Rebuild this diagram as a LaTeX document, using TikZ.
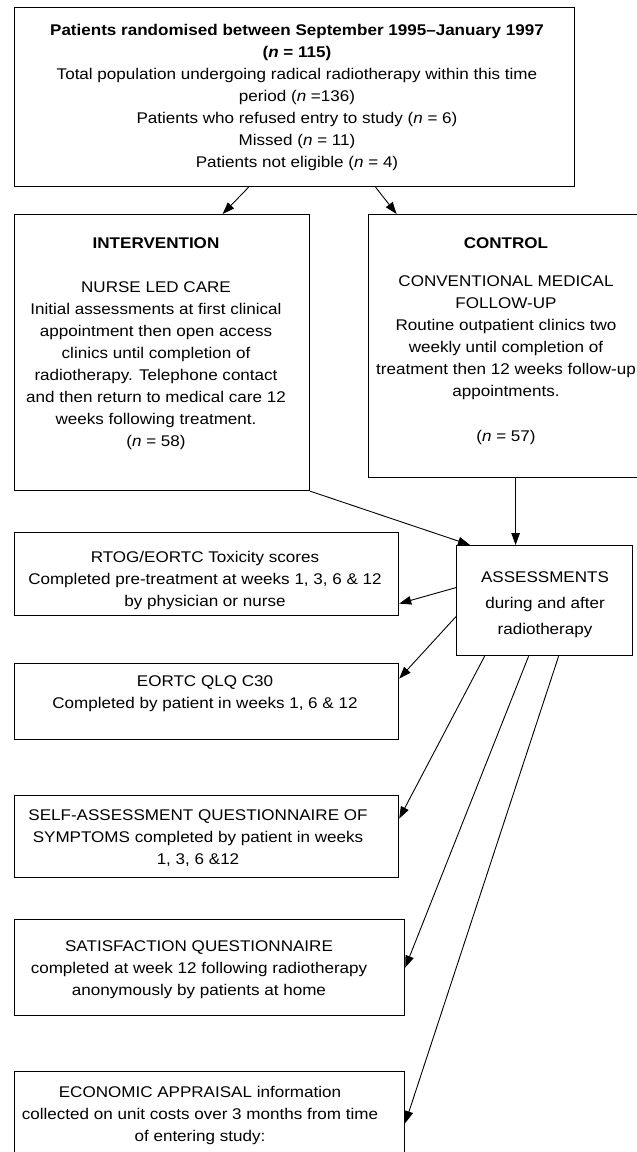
\documentclass[tikz,border=0pt]{standalone}
\usepackage{fontspec}
\setmainfont[FakeStretch=1.1]{Liberation Sans}
\usetikzlibrary{arrows.meta,calc}
\begin{document}
\begin{tikzpicture}[x=1pt,y=-1pt,
  box/.style={draw,line width=1.2pt,rectangle,inner sep=0pt,anchor=north west},
  txt/.style={align=center,inner sep=0pt,font=\fontsize{15.5}{22}\selectfont},
  conn/.style={line width=0.9pt,-{Triangle[length=12pt,width=8.5pt]}}]
\useasboundingbox (0,0) rectangle (637,1152);
% boxes
\node[box,minimum width=560pt,minimum height=179pt] (top) at (14,7) {};
\node[box,minimum width=295pt,minimum height=276pt] (interv) at (14,214) {};
\node[box,minimum width=272pt,minimum height=263pt] (ctrl) at (368,214) {};
\node[box,minimum width=176pt,minimum height=110pt] (assess) at (456,545) {};
\node[box,minimum width=384pt,minimum height=83pt] (rtog) at (14,532) {};
\node[box,minimum width=384pt,minimum height=76pt] (eortc) at (14,663) {};
\node[box,minimum width=384pt,minimum height=82pt] (self) at (14,795) {};
\node[box,minimum width=390pt,minimum height=96pt] (satis) at (14,919) {};
\node[box,minimum width=390pt,minimum height=100pt] (econ) at (14,1071) {};
% texts
\node[txt] (toptxt) at (297,97) {\textbf{Patients randomised between September 1995–January 1997}\\
  \textbf{(\textit{n} = 115)}\\
  Total population undergoing radical radiotherapy within this time\\
  period (\textit{n} =136)\\
  Patients who refused entry to study (\textit{n} = 6)\\
  Missed (\textit{n} = 11)\\
  Patients not eligible (\textit{n} = 4)};
\node[txt] (intervtxt) at (156,344) {\textbf{INTERVENTION}\\[22pt]
  NURSE LED CARE\\
  Initial assessments at first clinical\\
  appointment then open access\\
  clinics until completion of\\
  radiotherapy. Telephone contact\\
  and then return to medical care 12\\
  weeks following treatment.\\
  (\textit{n} = 58)};
\node[txt] (ctrltxt) at (506,341) {\textbf{CONTROL}\\[16pt]
  CONVENTIONAL MEDICAL\\
  FOLLOW-UP\\
  Routine outpatient clinics two\\
  weekly until completion of\\
  treatment then 12 weeks follow-up\\
  appointments.\\[23pt]
  (\textit{n} = 57)};
\node[txt,font=\fontsize{15.5}{26}\selectfont] (assesstxt) at (545,605) {ASSESSMENTS\\ during and after\\ radiotherapy};
\node[txt] (rtogtxt) at (205,580) {RTOG/EORTC Toxicity scores\\
  Completed pre-treatment at weeks 1, 3, 6 \& 12\\
  by physician or nurse};
\node[txt] (eortctxt) at (205,694) {EORTC QLQ C30\\
  Completed by patient in weeks 1, 6 \& 12};
\node[txt] (selftxt) at (198,838) {SELF-ASSESSMENT QUESTIONNAIRE OF\\
  SYMPTOMS completed by patient in weeks\\
  1, 3, 6 \&12};
\node[txt] (satistxt) at (199,970) {SATISFACTION QUESTIONNAIRE\\
  completed at week 12 following radiotherapy\\
  anonymously by patients at home};
\node[txt] (econtxt) at (200,1115) {ECONOMIC APPRAISAL information\\
  collected on unit costs over 3 months from time\\
  of entering study:};
% connectors
\draw[conn] ([xshift=-46pt]top.south) -- ([xshift=60.5pt]interv.north);
\draw[conn] ([xshift=81pt]top.south) -- ([xshift=-108pt]ctrl.north);
\draw[conn] ([xshift=11pt]ctrl.south) -- ([xshift=-29pt]assess.north);
\draw[conn] (interv.south east) -- ([xshift=14pt]assess.north west);
\draw[conn] ([yshift=13pt]assess.west) -- ([yshift=-29.5pt]rtog.east);
\draw[conn] ([yshift=-16pt]assess.west) -- ([yshift=23pt]eortc.east);
\draw[conn] ([xshift=-60pt]assess.south) -- ([yshift=18pt]self.east);
\draw[conn] ([xshift=-16pt]assess.south) -- (satis.east);
\draw[conn] ([xshift=14pt]assess.south) -- ([yshift=-1.5pt]econ.east);
\end{tikzpicture}
\end{document}
